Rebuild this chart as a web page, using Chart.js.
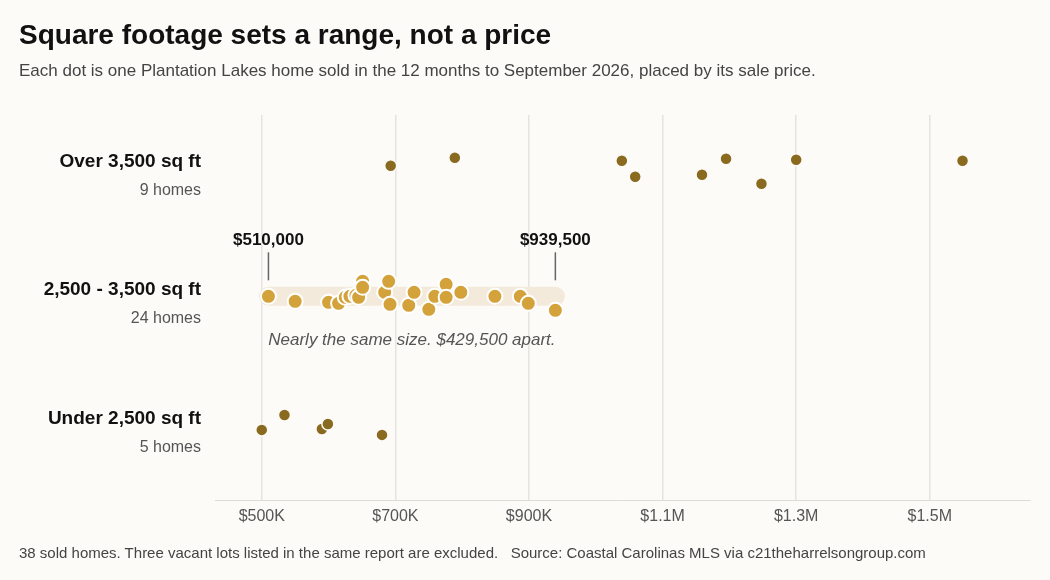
<!DOCTYPE html>
<html><head><meta charset="utf-8">
<script src="https://cdn.jsdelivr.net/npm/chart.js@4"></script>
<style>
body{margin:0;background:#fcfbf8;font-family:"Liberation Sans",Arial,sans-serif;}
#wrap{position:relative;width:1050px;height:580px;}
canvas{position:absolute;left:0;top:0;}
.t{position:absolute;left:19px;white-space:nowrap;}
</style></head><body>
<div id="wrap">
<canvas id="c" width="1050" height="580"></canvas>
<div class="t" style="top:19px;font-size:28px;font-weight:bold;color:#111;">Square footage sets a range, not a price</div>
<div class="t" style="top:61px;font-size:17px;color:#444;">Each dot is one Plantation Lakes home sold in the 12 months to September 2026, placed by its sale price.</div>
<div class="t" style="top:544px;font-size:15px;color:#444;">38 sold homes. Three vacant lots listed in the same report are excluded. &nbsp; Source: Coastal Carolinas MLS via c21theharrelsongroup.com</div>
</div>
<script>
const rowNames=["Over 3,500 sq ft","2,500 - 3,500 sq ft","Under 2,500 sq ft"];
const rowCounts=["9 homes","24 homes","5 homes"];
const rowY=[2,1,0];
const overPrices=[693,789,1039,1059,1159,1195,1248,1300,1549];
const overJitter=[2,10,7,-9,-7,9,-16,8,7];
const midPrices=[510,550,600,615,625,632,641,645,651,651,684,690,692,720,728,750,759,776,776,798,849,887,899,939.5];
const midJitter=[0,-5,-6,-7,-1,0,1,-1,15,9,4,15,-8,-9,4,-13,0,12,-1,4,0,0,-7,-14];
const underPrices=[500,534,590,599,680];
const underJitter=[-5,10,-4,1,-10];
const xTicks=[500,700,900,1100,1300,1500];
const rangeLow=510, rangeHigh=939.5;
const PX=129;
const pts=(p,j,r)=>p.map((v,i)=>({x:v,y:r+j[i]/PX}));
const fmt=v=>v>=1000?"$"+(v/1000).toFixed(1)+"M":"$"+v+"K";
const overlay={id:'ov',
 beforeDatasetsDraw(ch){},
 afterDraw(ch){
  const c=ch.ctx,x=ch.scales.x,y=ch.scales.y;
  c.save();
  rowNames.forEach((n,i)=>{
    const py=y.getPixelForValue(rowY[i]);
    c.textAlign='right';c.fillStyle='#111';c.font='bold 19px "Liberation Sans",Arial';
    c.fillText(n,201,py-1);
    c.fillStyle='#555';c.font='16px "Liberation Sans",Arial';
    c.fillText(rowCounts[i],201,py+27);
  });
  const my=y.getPixelForValue(1);
  [[rangeLow,"$510,000"],[rangeHigh,"$939,500"]].forEach(([v,t])=>{
    const px=x.getPixelForValue(v);
    c.strokeStyle='#666';c.lineWidth=1.5;c.beginPath();c.moveTo(px,my-44);c.lineTo(px,my-16);c.stroke();
    c.fillStyle='#111';c.font='bold 17px "Liberation Sans",Arial';c.textAlign='center';
    c.fillText(t,px,my-51);
  });
  c.fillStyle='#555';c.font='italic 17px "Liberation Sans",Arial';c.textAlign='center';
  c.fillText("Nearly the same size. $429,500 apart.",(x.getPixelForValue(rangeLow)+x.getPixelForValue(rangeHigh))/2,my+49);
  c.restore();
 }};
new Chart(document.getElementById('c'),{
 type:'scatter',
 data:{datasets:[
  {type:'line',data:[{x:rangeLow,y:1},{x:rangeHigh,y:1}],borderColor:'#f3eadb',borderWidth:19,borderCapStyle:'round',pointRadius:0,order:5},
  {data:pts(overPrices,overJitter,2),backgroundColor:'#8a6a1e',borderColor:'#fcfbf8',borderWidth:1.5,pointRadius:6},
  {data:pts(midPrices,midJitter,1),backgroundColor:'#d4a23a',borderColor:'#ffffff',borderWidth:2,pointRadius:7.5},
  {data:pts(underPrices,underJitter,0),backgroundColor:'#8a6a1e',borderColor:'#fcfbf8',borderWidth:1.5,pointRadius:6}
 ]},
 options:{responsive:false,animation:false,
  layout:{padding:{left:215,right:20,top:115,bottom:48}},
  plugins:{legend:{display:false},tooltip:{enabled:false}},
  scales:{
   x:{type:'linear',min:430,max:1650,
    afterBuildTicks:s=>{s.ticks=xTicks.map(v=>({value:v}));},
    ticks:{callback:v=>fmt(v),color:'#555',font:{size:16,family:'"Liberation Sans",Arial'},padding:6},
    grid:{color:'#e6e4e0',lineWidth:1.5,drawTicks:false},border:{display:true,color:'#dddbd6'}},
   y:{type:'linear',min:-0.59,max:2.41,display:false}
  }},
 plugins:[overlay]
});
</script></body></html>
